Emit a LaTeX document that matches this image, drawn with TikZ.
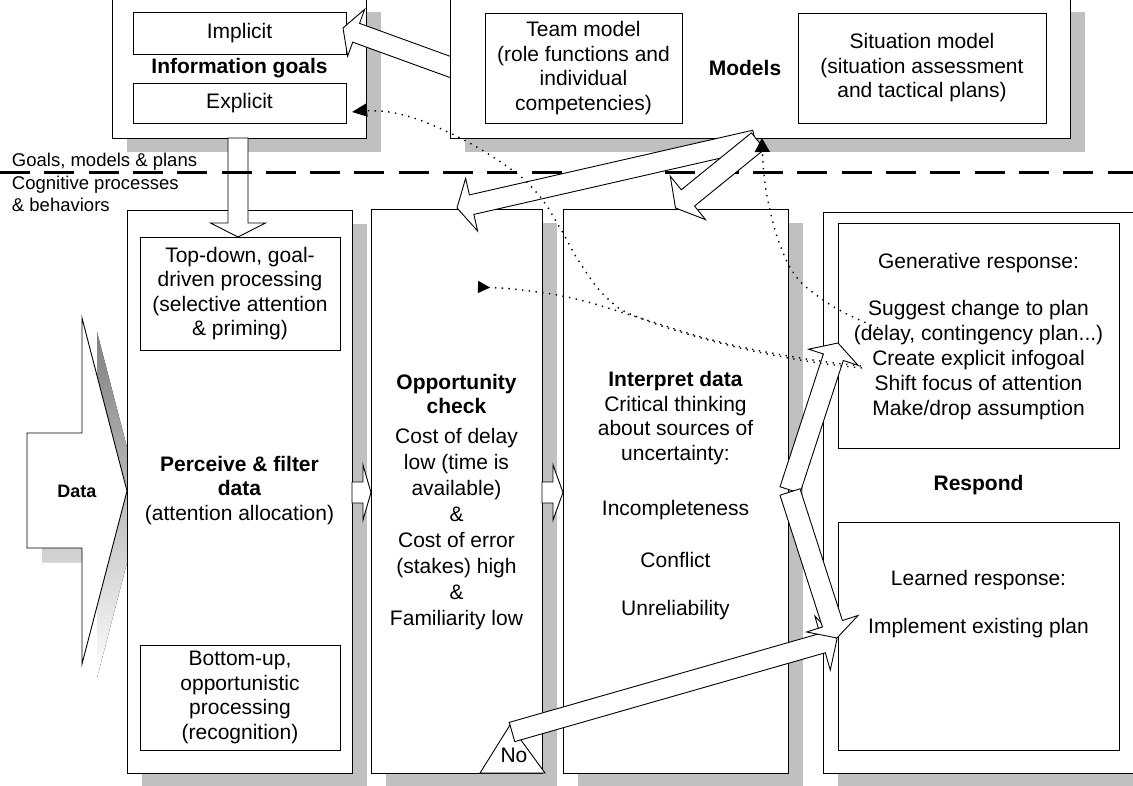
\documentclass[tikz,border=0pt]{standalone}
\usepackage{fontspec}
\setmainfont{Liberation Sans}
\usetikzlibrary{calc,arrows.meta,shadows}
\definecolor{shade}{HTML}{C0C0C0}
\newcommand\mainsize{\fontsize{21}{24.5}\selectfont}
\newcommand\smallsize{\fontsize{18.5}{22.5}\selectfont}

% wide block arrow: tail, tip, half body width, half head width, head length, name
\newcommand\blockarrow[6]{%
  \coordinate (#6-hb) at ($(#2)!#5!(#1)$);
  \draw[blockarr] ($(#1)!#3!90:(#2)$) -- ($(#6-hb)!#3!90:(#2)$)
    -- ($(#6-hb)!#4!90:(#2)$) -- (#2) -- ($(#6-hb)!#4!-90:(#2)$)
    -- ($(#6-hb)!#3!-90:(#2)$) -- ($(#1)!#3!-90:(#2)$) -- cycle;}

\begin{document}
\begin{tikzpicture}[x=1pt,y=-1pt,
  every node/.style={inner sep=0pt, outer sep=0pt},
  lbl/.style={font=\mainsize, align=center},
  hd/.style={font=\mainsize\bfseries, align=center},
  box/.style={draw, fill=white, line width=0.9pt},
  shadowed/.style={drop shadow={shadow xshift=15pt, shadow yshift=-14pt, fill=shade, opacity=1}},
  blockarr/.style={draw, fill=white, line width=0.9pt, line join=miter},
  dotline/.style={line width=1.4pt, dash pattern=on 1.4pt off 5.4pt},
]
\clip (0,0) rectangle (1133,786);
\fill[white] (0,0) rectangle (1133,786);

% shadow of the Data arrow
\fill[shade] (42,447) -- (97,447) -- (97,332) -- (142,505) -- (97,678) -- (97,562) -- (42,562) -- cycle;

% information goals
\node[box, shadowed, minimum width=254pt, minimum height=140pt] (goals) at (239,68) {};
\node[box, lbl, minimum width=213pt, minimum height=42pt] (implicit) at (239.5,33) {Implicit};
\node[hd] (goalsname) at (239.5,68) {Information goals};
\node[box, lbl, minimum width=213pt, minimum height=40pt] (explicit) at (239.5,103) {Explicit};

% models feed the implicit goals
\coordinate (a1tail) at (464,72);
\coordinate (a1tip) at (343,28);
\blockarrow{a1tail}{a1tip}{10pt}{25pt}{14pt}{a1}

% models
\node[box, shadowed, minimum width=620pt, minimum height=140pt] (models) at (760,68) {};
\node[box, lbl, minimum width=197pt, minimum height=110pt] (team) at (583.5,68) {Team model\\(role functions and\\individual\\competencies)};
\node[hd] (modelsname) at (745,68) {Models};
\node[box, lbl, minimum width=248pt, minimum height=110pt] (situation) at (922,68) {Situation model\\(situation assessment\\and tactical plans)};

% process columns
\node[box, shadowed, minimum width=225pt, minimum height=563pt] (perceive) at (239.5,491.5) {};
\node[box, shadowed, minimum width=171pt, minimum height=564pt] (opp) at (456.5,491) {};
\node[box, shadowed, minimum width=225pt, minimum height=564pt] (interp) at (675.5,491) {};
\node[box, shadowed, minimum width=322pt, minimum height=561pt] (respond) at (984,492.5) {};

% perceive & filter
\node[box, lbl, minimum width=200pt, minimum height=113pt] (topdown) at (240,293.5) {Top-down, goal-\\driven processing\\(selective attention\\\& priming)};
\node[box, lbl, minimum width=200pt, minimum height=105pt] (bottomup) at (240,697.5) {Bottom-up,\\opportunistic\\processing\\(recognition)};
\node[lbl] (perctext) at (239.5,490.5) {\textbf{Perceive \& filter}\\\textbf{data}\\(attention allocation)};

% opportunity check
\node[hd] (opphead) at (456.5,394) {Opportunity\\check};
\node[lbl, font=\fontsize{21}{26}\selectfont] (oppbody) at (456.5,529) {Cost of delay\\low (time is\\available)\\\&\\Cost of error\\(stakes) high\\\&\\Familiarity low};

% interpret data
\node[lbl] (interphead) at (675.5,418) {\textbf{Interpret data}\\Critical thinking\\about sources of\\uncertainty:};
\node[lbl] (incomp) at (675.5,510) {Incompleteness};
\node[lbl] (conflict) at (675.5,560) {Conflict};
\node[lbl] (unrel) at (675.5,610) {Unreliability};

% respond
\node[box, minimum width=281pt, minimum height=225pt] (gen) at (978.5,335.5) {};
\node[lbl] (genhead) at (978.5,263) {Generative response:};
\node[lbl, font=\fontsize{21}{25}\selectfont] (genlist) at (978.5,360) {Suggest change to plan\\(delay, contingency plan...)\\Create explicit infogoal\\Shift focus of attention\\Make/drop assumption};
\node[hd] (respname) at (978.5,485) {Respond};
\node[box, minimum width=281pt, minimum height=228pt] (learned) at (978.5,636) {};
\node[lbl] (learnhead) at (978.5,580) {Learned response:};
\node[lbl] (learnplan) at (978.5,628) {Implement existing plan};

% incoming data
\draw[blockarr] (27,433) -- (82,433) -- (82,318) -- (127,491) coordinate (datatip) -- (82,664) -- (82,548) -- (27,548) -- cycle;
\node[font=\fontsize{18}{20}\selectfont\bfseries] (datalbl) at (77,491) {Data};

% goals drive top-down processing
\coordinate (dtail) at (238,138);
\coordinate (dtip) at (238,237);
\blockarrow{dtail}{dtip}{10pt}{27.5pt}{14pt}{down}

% column to column
\coordinate (s1tail) at (352,492.5);
\coordinate (s1tip) at (371,492.5);
\blockarrow{s1tail}{s1tip}{10.5pt}{27.5pt}{8pt}{s1}
\coordinate (s2tail) at (542,492.5);
\coordinate (s2tip) at (563,492.5);
\blockarrow{s2tail}{s2tip}{10.5pt}{27.5pt}{10pt}{s2}

% level divider
\draw[line width=3pt, dash pattern=on 30pt off 14.3pt] (0,173) coordinate (divL) -- (1133,173) coordinate (divR);
\node[font=\smallsize, anchor=base west] (upperlbl) at (12,167) {Goals, models \& plans};
\node[font=\smallsize, anchor=base west] (lowerlbl) at (12,190) {Cognitive processes};
\node[font=\smallsize, anchor=base west] (lowerlblb) at (12,212) {\& behaviors};

% models feed opportunity check and interpretation
\coordinate (a2tail) at (755,140);
\coordinate (a2tip) at (457,208);
\blockarrow{a2tail}{a2tip}{10pt}{27pt}{15pt}{a2}
\coordinate (a3tail) at (758,141);
\coordinate (a3tip) at (675.5,208);
\blockarrow{a3tail}{a3tip}{10.5pt}{28pt}{16pt}{a3}

% "No" branch
\draw[box] (510,725) coordinate (noapex) -- (545,773) -- (480,773) -- cycle;
\node[lbl] (nolbl) at (514,755) {No};
\coordinate (a4tail) at (512,732);
\coordinate (a4tip) at (837,639);
\blockarrow{a4tail}{a4tip}{10pt}{28pt}{15pt}{a4}

% interpretation to responses
\coordinate (a5tail) at (790,490);
\coordinate (a5tip) at (838,343);
\blockarrow{a5tail}{a5tip}{10.5pt}{26pt}{15pt}{a5}
\coordinate (a6tail) at (790,492);
\coordinate (a6tip) at (837,638);
\blockarrow{a6tail}{a6tip}{10.5pt}{27pt}{15pt}{a6}

% feedback paths
\coordinate (d1s) at (878,328);
\coordinate (d1e) at (762,138);
\draw[dotline, -{Triangle[length=14pt,width=15pt]}] plot[smooth, tension=0.7] coordinates {(d1s) (843,312) (815,294) (795,275) (780,245) (770,210) (764,175) (d1e)};
\coordinate (d2s) at (478,287);
\coordinate (d2e) at (862,366);
\draw[dotline, {Triangle[reversed,length=12pt,width=12pt]}-] plot[smooth, tension=0.7] coordinates {(d2s) (530,291) (580,300) (640,318) (720,342) (800,358) (d2e)};
\coordinate (d3s) at (862,368);
\coordinate (d3e) at (352,112);
\draw[dotline, -{Triangle[length=15pt,width=13pt]}] plot[smooth, tension=0.7] coordinates {(d3s) (800,360) (720,343) (640,318) (607,298) (580,263) (560,228) (537,193) (505,165) (450,133) (395,113) (d3e)};
\end{tikzpicture}
\end{document}
